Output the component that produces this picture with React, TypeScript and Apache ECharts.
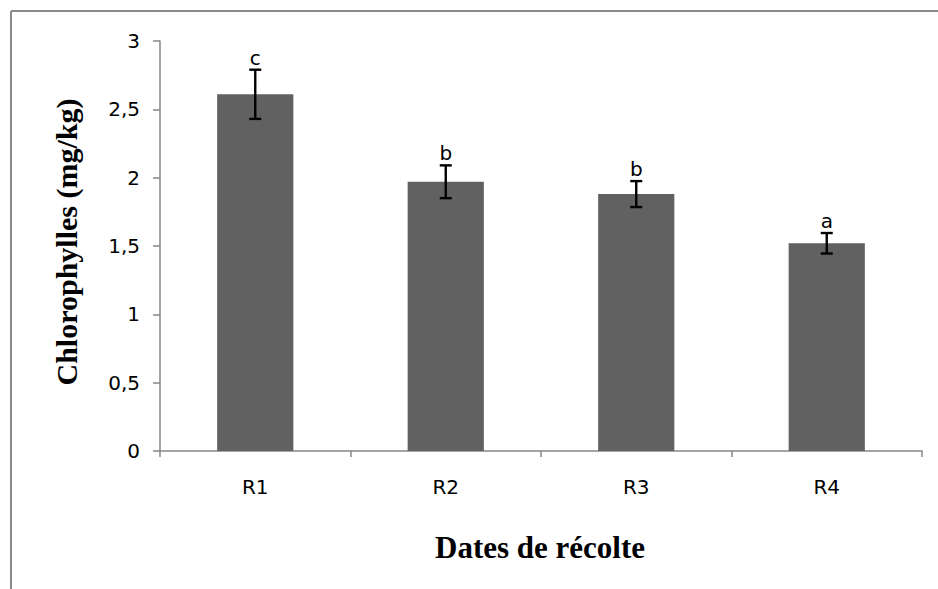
import React, { useEffect, useRef } from "react";
import * as echarts from "echarts";

const categories = ["R1", "R2", "R3", "R4"];
const chlorophylles = [2.61, 1.97, 1.88, 1.52];
const erreurs = [0.18, 0.12, 0.095, 0.075];
const lettres = ["c", "b", "b", "a"];
const yTicks = [0, 0.5, 1, 1.5, 2, 2.5, 3];

const SANS = "'DejaVu Sans', 'Open Sans', sans-serif";
const SERIF = "'Liberation Serif', 'Times New Roman', serif";

function fmt(v: number): string {
  return String(v).replace(".", ",");
}

export default function App() {
  const ref = useRef<HTMLDivElement>(null);

  useEffect(() => {
    if (!ref.current) return;
    const chart = echarts.init(ref.current, undefined, { renderer: "svg" });

    const errData = categories.map((_, i) => [
      i,
      chlorophylles[i] - erreurs[i],
      chlorophylles[i] + erreurs[i],
      i,
    ]);

    chart.setOption({
      animation: false,
      backgroundColor: "#ffffff",
      grid: { left: 160, right: 16, top: 41, bottom: 138 },
      xAxis: {
        type: "category",
        data: categories,
        axisLine: { lineStyle: { color: "#878787", width: 1.5 } },
        axisTick: {
          show: true,
          alignWithLabel: false,
          length: 6,
          lineStyle: { color: "#878787", width: 1.5 },
        },
        axisLabel: { color: "#000", fontFamily: SANS, fontSize: 20, margin: 26 },
      },
      yAxis: {
        type: "value",
        min: yTicks[0],
        max: yTicks[yTicks.length - 1],
        interval: 0.5,
        splitLine: { show: false },
        axisLine: { show: true, lineStyle: { color: "#878787", width: 1.5 } },
        axisTick: {
          show: true,
          length: 7,
          lineStyle: { color: "#878787", width: 1.5 },
        },
        axisLabel: {
          color: "#000",
          fontFamily: SANS,
          fontSize: 20,
          margin: 20,
          formatter: (v: number) => fmt(v),
        },
      },
      series: [
        {
          type: "bar",
          data: chlorophylles,
          barWidth: "40%",
          itemStyle: { color: "#616161" },
        },
        {
          type: "custom",
          data: errData,
          z: 10,
          renderItem: (params: any, api: any) => {
            const x = api.value(0);
            const lo = api.coord([x, api.value(1)]);
            const hi = api.coord([x, api.value(2)]);
            const idx = api.value(3);
            const half = 6;
            const style = { stroke: "#000", lineWidth: 2.4 };
            return {
              type: "group",
              children: [
                { type: "line", shape: { x1: hi[0], y1: hi[1], x2: lo[0], y2: lo[1] }, style },
                { type: "line", shape: { x1: hi[0] - half, y1: hi[1], x2: hi[0] + half, y2: hi[1] }, style },
                { type: "line", shape: { x1: lo[0] - half, y1: lo[1], x2: lo[0] + half, y2: lo[1] }, style },
                {
                  type: "text",
                  x: hi[0],
                  y: hi[1] - 2,
                  style: {
                    text: lettres[idx],
                    fill: "#000",
                    font: `20px ${SANS}`,
                    textAlign: "center",
                    textVerticalAlign: "bottom",
                  },
                },
              ],
            };
          },
        },
      ],
      graphic: [
        {
          type: "line",
          shape: { x1: 11, y1: 11, x2: 938, y2: 11 },
          style: { stroke: "#8a8a8a", lineWidth: 2 },
        },
        {
          type: "line",
          shape: { x1: 11, y1: 11, x2: 11, y2: 589 },
          style: { stroke: "#8a8a8a", lineWidth: 2 },
        },
        {
          type: "text",
          x: 66,
          y: 242,
          rotation: Math.PI / 2,
          style: {
            text: "Chlorophylles (mg/kg)",
            fill: "#000",
            font: `bold 30px ${SERIF}`,
            textAlign: "center",
            textVerticalAlign: "middle",
          },
        },
        {
          type: "text",
          x: 540,
          y: 547,
          style: {
            text: "Dates de récolte",
            fill: "#000",
            font: `bold 31px ${SERIF}`,
            textAlign: "center",
            textVerticalAlign: "middle",
          },
        },
      ],
    });

    return () => chart.dispose();
  }, []);

  return (
    <div
      ref={ref}
      style={{ position: "fixed", left: 0, top: 0, width: 938, height: 589 }}
    />
  );
}
